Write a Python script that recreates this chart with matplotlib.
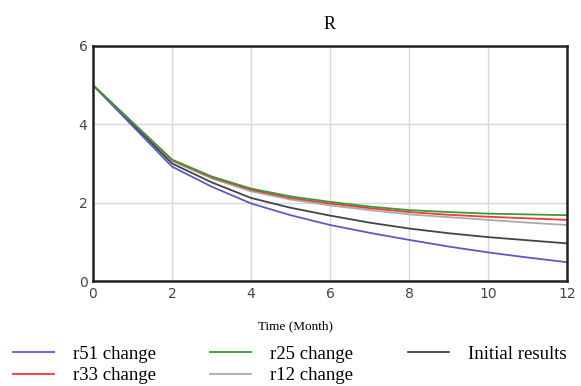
import matplotlib
matplotlib.use('Agg')
import matplotlib.pyplot as plt

# monthly values
months = list(range(13))
r51 = [5, 3.96, 2.92, 2.41, 1.98, 1.68, 1.43, 1.23, 1.05, 0.88, 0.73, 0.60, 0.48]
r33 = [5, 4.05, 3.09, 2.65, 2.33, 2.12, 1.98, 1.86, 1.76, 1.69, 1.64, 1.60, 1.56]
r25 = [5, 4.05, 3.10, 2.67, 2.36, 2.16, 2.02, 1.90, 1.81, 1.76, 1.72, 1.70, 1.68]
r12 = [5, 4.03, 3.06, 2.62, 2.29, 2.08, 1.93, 1.81, 1.70, 1.63, 1.56, 1.49, 1.43]
initial = [5, 4.00, 3.00, 2.52, 2.12, 1.87, 1.67, 1.49, 1.34, 1.22, 1.12, 1.04, 0.96]

series = [
    ("r51 change", r51, "#5a5ac8"),
    ("r33 change", r33, "#ee3a3a"),
    ("r25 change", r25, "#3a9a3a"),
    ("r12 change", r12, "#aaaaaa"),
    ("Initial results", initial, "#444444"),
]

fig = plt.figure(figsize=(5.81, 3.86), dpi=100)
ax = fig.add_axes([0.160, 0.272, 0.816, 0.609])

# draw gray first so colored lines sit on top like the reference
order = [3, 4, 0, 1, 2]
lines = {}
for i in order:
    name, vals, color = series[i]
    ln, = ax.plot(months, vals, color=color, linewidth=1.3, label=name)
    lines[i] = ln

ax.set_xlim(0, 12)
ax.set_ylim(0, 6)
ax.set_xticks(range(0, 13, 2))
ax.set_yticks(range(0, 7, 2))
ax.grid(True, color="#d8d8d8", linewidth=1)
ax.tick_params(length=0, labelsize=10, labelcolor="#444444", pad=4)
for sp in ax.spines.values():
    sp.set_linewidth(1.8)
    sp.set_color("#222222")

serif = "Liberation Serif"
ax.set_title("R", fontfamily=serif, fontsize=13, pad=12)
fig.text(0.508, 0.148, "Time (Month)", fontfamily=serif, fontsize=9.5, ha="center")

handles = [lines[i] for i in range(5)]
fig.legend(handles, [s[0] for s in series], loc="upper left",
           bbox_to_anchor=(0.022, 0.104), ncol=3, frameon=False,
           prop={"family": serif, "size": 13.5}, handlelength=2.2,
           handletextpad=1.0, columnspacing=2.9, labelspacing=0.22,
           borderaxespad=0, borderpad=0)

plt.savefig("out.png", dpi=100)
plt.close()
